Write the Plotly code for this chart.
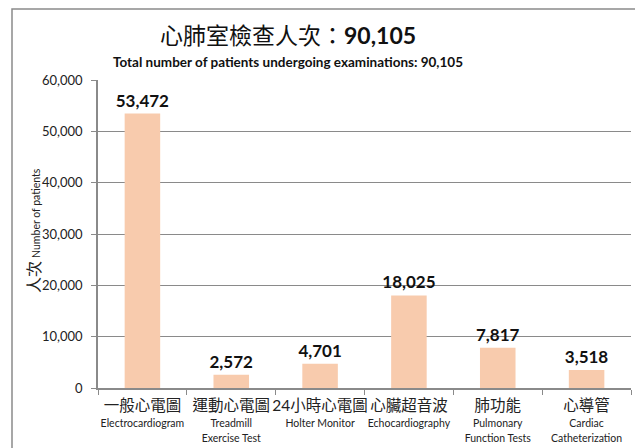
import plotly.graph_objects as go

categories_zh = ["一般心電圖", "運動心電圖", "24小時心電圖", "心臟超音波", "肺功能", "心導管"]
categories_en = ["Electrocardiogram", "Treadmill<br>Exercise Test", "Holter Monitor",
                 "Echocardiography", "Pulmonary<br>Function Tests", "Cardiac<br>Catheterization"]
values = [53472, 2572, 4701, 18025, 7817, 3518]
y_ticks = [0, 10000, 20000, 30000, 40000, 50000, 60000]
y_ticklabels = ["0", "10,000", "20,000", "30,000", "40,000", "50,000", "60,000"]
title_text = "心肺室檢查人次：<b>90,105</b>"
subtitle_text = "<b>Total number of patients undergoing examinations: 90,105</b>"
ytitle_text = "<span style='font-size:16px'>人次</span> <span style='font-size:10.5px'>Number of patients</span>"

FONT = "Lato, 'Noto Sans CJK TC', sans-serif"
GRAY = "#8a8a8a"

ticktext = [f"<span style='font-size:15.5px'>{zh}</span><br><span style='font-size:10.5px'>{en}</span>"
            for zh, en in zip(categories_zh, categories_en)]

fig = go.Figure()
fig.add_trace(go.Bar(
    x=categories_zh, y=values,
    marker=dict(color="#F8CBAD", line=dict(width=0)),
    texttemplate="<b>%{y:,}</b>", textposition="outside",
    textfont=dict(family=FONT, size=17, color="#111"),
    cliponaxis=False, width=0.4, constraintext="none",
))

# the page body has an 8px default margin, so the figure is drawn 8px smaller
fig.update_layout(
    width=635, height=440,
    margin=dict(l=90, r=12, t=72, b=60),
    paper_bgcolor="white", plot_bgcolor="white",
    font=dict(family=FONT, color="#222"),
    showlegend=False,
    xaxis=dict(
        tickmode="array", tickvals=categories_zh, ticktext=ticktext,
        tickfont=dict(size=12, color="#222"), tickangle=0, automargin=False,
        showline=True, linecolor=GRAY, linewidth=1.5,
        ticks="outside", tickson="boundaries", ticklen=5, tickcolor=GRAY,
        showgrid=False, ticklabelstandoff=7,
    ),
    yaxis=dict(
        range=[0, 60000], tickmode="array", tickvals=y_ticks, ticktext=y_ticklabels,
        tickfont=dict(size=13, color="#222"), automargin=False,
        showline=True, linecolor=GRAY, linewidth=1.5,
        ticks="outside", ticklen=5, tickcolor=GRAY,
        showgrid=True, gridcolor=GRAY, gridwidth=1.2,
        zeroline=False, ticklabelstandoff=6,
    ),
    annotations=[
        dict(text=title_text, x=(288 - 98) / 533, y=(388 - 35) / 308, xref="paper", yref="paper",
             showarrow=False, font=dict(size=23, color="#111", family=FONT), xanchor="center", yanchor="middle"),
        dict(text=subtitle_text, x=(288 - 98) / 533, y=(388 - 62) / 308, xref="paper", yref="paper",
             showarrow=False, font=dict(size=13.5, color="#111", family=FONT), xanchor="center", yanchor="middle"),
        dict(text=ytitle_text, x=(33 - 98) / 533, y=(388 - 231) / 308, xref="paper", yref="paper",
             showarrow=False, textangle=-90, font=dict(color="#222", family=FONT),
             xanchor="center", yanchor="middle"),
    ],
    shapes=[
        dict(type="rect", xref="paper", yref="paper",
             x0=(12 - 98) / 533, x1=1.2, y0=-0.3, y1=(388 - 9) / 308,
             line=dict(color=GRAY, width=1.5), fillcolor="rgba(0,0,0,0)", layer="below"),
    ],
)

fig.write_html("out.html")
